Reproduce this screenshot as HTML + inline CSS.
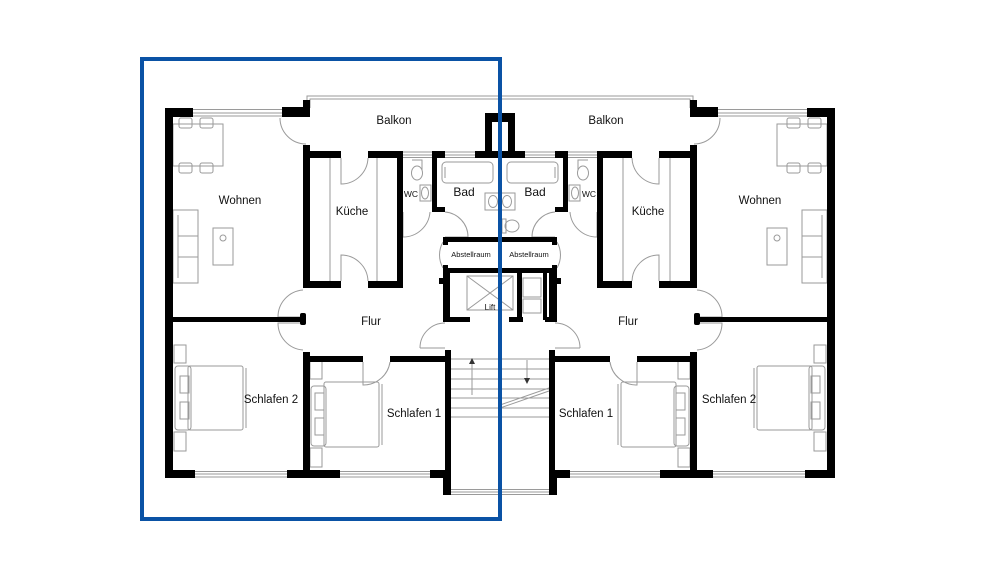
<!DOCTYPE html>
<html><head><meta charset="utf-8"><style>
html,body{margin:0;padding:0;background:#fff;}
svg{display:block;}
text{font-family:"Liberation Sans",Arial,sans-serif;fill:#111;}
</style></head><body>
<svg width="1000" height="563" viewBox="0 0 1000 563" xmlns="http://www.w3.org/2000/svg">
<defs>
<g id="half">
  <g fill="none" stroke="#9a9a9a" stroke-width="1">
    <path d="M193 109.5H282M193 113H282M193 116H282"/>
    <path d="M195 471.5H287M195 474H287M195 477H287"/>
    <path d="M340 471.5H430M340 474H430M340 477H430"/>
    <path d="M403 152H432M403 155H432M403 157.5H432"/>
    <path d="M445 152H475M445 155H475M445 157.5H475"/>
    <path d="M307 108V96H500M310 108V99H500"/>
    <rect x="173" y="124" width="50" height="42"/>
    <rect x="179" y="118" width="13" height="10" rx="2"/><rect x="200" y="118" width="13" height="10" rx="2"/>
    <rect x="179" y="163" width="13" height="10" rx="2"/><rect x="200" y="163" width="13" height="10" rx="2"/>
    <rect x="173" y="210" width="25" height="73"/>
    <path d="M178 215V278M178 236H198M178 257H198"/>
    <rect x="213" y="228" width="20" height="37"/>
    <circle cx="223" cy="238" r="3"/>
    <rect x="174" y="345" width="12" height="18"/>
    <rect x="174" y="432" width="12" height="19"/>
    <rect x="175" y="366" width="16" height="64" rx="3"/>
    <rect x="180" y="376" width="9" height="17"/><rect x="180" y="402" width="9" height="17"/>
    <rect x="188" y="366" width="55" height="64" rx="2"/>
    <path d="M246 368V428"/>
    <rect x="310" y="361" width="12" height="18"/>
    <rect x="310" y="448" width="12" height="19"/>
    <rect x="311" y="386" width="15" height="60" rx="3"/>
    <rect x="315" y="393" width="9" height="17"/><rect x="315" y="418" width="9" height="17"/>
    <rect x="324" y="382" width="55" height="65" rx="2"/>
    <path d="M382 384V445"/>
    <path d="M330 158V281M377 158V281"/>
    <path d="M412 160h10v10"/>
    <ellipse cx="417" cy="173" rx="5.5" ry="7"/>
    <rect x="420" y="185" width="11" height="16"/>
    <ellipse cx="425" cy="193" rx="3.5" ry="6"/>
    <rect x="442" y="162" width="51" height="21" rx="4"/>
    <path d="M445 167v11"/>
    <path d="M451 359H500M451 369H500M451 379H500M451 389H500M451 398H500M451 408H500M451 417H500"/>
    <path d="M280 118A26 26 0 0 0 306 144"/>
    <path d="M341 158V184A27 27 0 0 0 368 158"/>
    <path d="M341 281V255A27 27 0 0 1 368 281"/>
    <path d="M303 290A27 27 0 0 0 278 317H303"/>
    <path d="M303 350A27 27 0 0 1 278 323H303"/>
    <path d="M363 362V385A27 27 0 0 0 390 362"/>
    <path d="M403 212V237A27 27 0 0 0 430 212"/>
    <path d="M445 212A25 25 0 0 1 468 237H445"/>
    <path d="M443 242A26 26 0 0 0 443 268"/>
    <path d="M420 348A25 25 0 0 1 445 323"/>
    <path d="M420 348H445"/>
    <path d="M451 489.5H500M451 492H500M451 494.5H500"/>
  </g>
  <g fill="#000">
    <rect x="165" y="108" width="8" height="370"/>
    <rect x="165" y="108" width="28" height="9"/>
    <rect x="282" y="107" width="28" height="10"/>
    <rect x="303" y="100" width="7" height="17"/>
    <rect x="303" y="145" width="7" height="143"/>
    <rect x="303" y="151" width="38" height="7"/>
    <rect x="368" y="151" width="35" height="7"/>
    <rect x="432" y="151" width="13" height="7"/>
    <rect x="397" y="151" width="6" height="137"/>
    <rect x="303" y="281" width="38" height="7"/>
    <rect x="368" y="281" width="35" height="7"/>
    <rect x="432" y="151" width="5" height="61"/>
    <rect x="432" y="207" width="13" height="5"/>
    <rect x="173" y="317" width="132" height="5"/>
    <rect x="300" y="313" width="6" height="12" rx="2"/>
    <rect x="303" y="352" width="7" height="126"/>
    <rect x="303" y="356" width="60" height="6"/>
    <rect x="390" y="356" width="55" height="6"/>
    <rect x="165" y="470" width="30" height="8"/>
    <rect x="287" y="470" width="53" height="8"/>
    <rect x="430" y="470" width="20" height="8"/>
    <rect x="443" y="470" width="8" height="25"/>
    <rect x="445" y="350" width="6" height="145"/>
    <rect x="443" y="237" width="5" height="8"/>
    <rect x="443" y="265" width="5" height="8"/>
    <rect x="443" y="272" width="7" height="50"/>
    <rect x="439" y="278" width="6" height="6"/>
  </g>
</g>
</defs>

<use href="#half"/>
<use href="#half" transform="translate(1000,0) scale(-1,1)"/>

<g fill="#000">
  <rect x="475" y="151" width="50" height="7"/>
  <rect x="485" y="113" width="30" height="9"/>
  <rect x="485" y="113" width="7" height="40"/>
  <rect x="508" y="113" width="7" height="40"/>
  <rect x="443" y="237" width="114" height="5"/>
  <rect x="443" y="268" width="114" height="5"/>
  <rect x="443" y="317" width="27" height="5"/>
  <rect x="509" y="317" width="14" height="5"/>
  <rect x="517" y="272" width="5" height="48"/>
  <rect x="543" y="272" width="4" height="48"/>
  <rect x="549" y="272" width="6" height="50"/>
  <rect x="545" y="317" width="12" height="5"/>
</g>
<g fill="none" stroke="#9a9a9a" stroke-width="1">
  <rect x="485" y="193" width="30" height="17"/>
  <ellipse cx="493" cy="201.5" rx="4.5" ry="6"/>
  <ellipse cx="507" cy="201.5" rx="4.5" ry="6"/>
  <path d="M502 219h4v14h-4z"/>
  <ellipse cx="512" cy="226" rx="7" ry="6"/>
  <rect x="467" y="276" width="46" height="34"/>
  <path d="M467 276L513 310M513 276L467 310"/>
  <rect x="523" y="278" width="18" height="19"/>
  <rect x="523" y="299" width="18" height="14"/>
  <path d="M472 395V362"/>
  <path d="M527 360V381"/>
  <path d="M500 405L549 388M500 408L549 391"/>
</g>
<path d="M472 358l-3 6h6z" fill="#333"/>
<path d="M527 384l-3-6h6z" fill="#333"/>

<g font-size="11.5">
  <text x="394" y="124" text-anchor="middle">Balkon</text>
  <text x="606" y="124" text-anchor="middle">Balkon</text>
  <text x="240" y="204" text-anchor="middle">Wohnen</text>
  <text x="760" y="204" text-anchor="middle">Wohnen</text>
  <text x="352" y="215" text-anchor="middle">Küche</text>
  <text x="648" y="215" text-anchor="middle">Küche</text>
  <text x="464" y="196" text-anchor="middle" font-size="12">Bad</text>
  <text x="535" y="196" text-anchor="middle" font-size="12">Bad</text>
  <text x="371" y="325" text-anchor="middle">Flur</text>
  <text x="628" y="325" text-anchor="middle">Flur</text>
  <text x="271" y="403" text-anchor="middle">Schlafen 2</text>
  <text x="729" y="403" text-anchor="middle">Schlafen 2</text>
  <text x="414" y="417" text-anchor="middle">Schlafen 1</text>
  <text x="586" y="417" text-anchor="middle">Schlafen 1</text>
</g>
<text x="411" y="197" text-anchor="middle" font-size="8.5">WC</text>
<text x="589" y="197" text-anchor="middle" font-size="8.5">WC</text>
<text x="471" y="257" text-anchor="middle" font-size="7.5">Abstellraum</text>
<text x="529" y="257" text-anchor="middle" font-size="7.5">Abstellraum</text>
<text x="490" y="310" text-anchor="middle" font-size="8">Lift</text>

<rect x="142" y="59" width="358" height="460" fill="none" stroke="#0a52a5" stroke-width="4"/>
</svg>
</body></html>
